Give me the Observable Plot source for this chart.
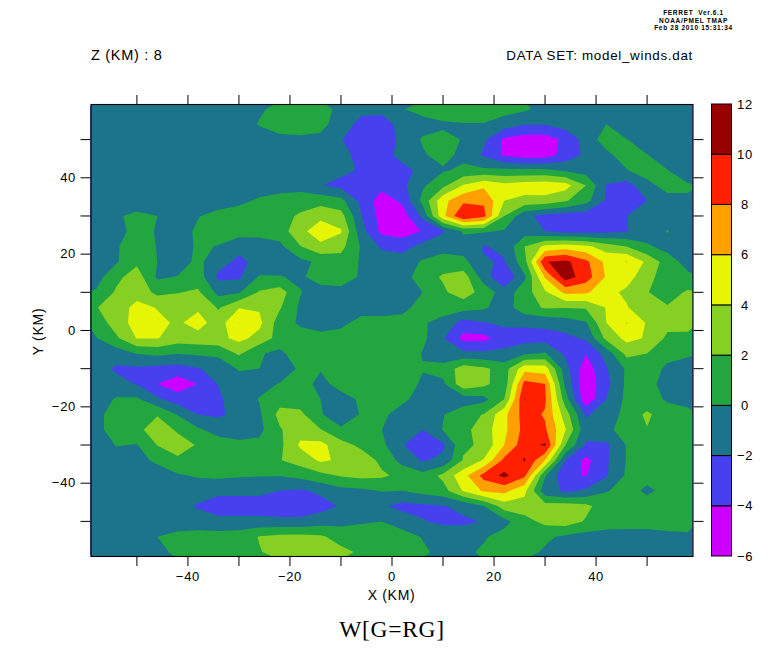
<!DOCTYPE html>
<html>
<head>
<meta charset="utf-8">
<script src="https://cdn.jsdelivr.net/npm/d3@7"></script>
<script src="https://cdn.jsdelivr.net/npm/@observablehq/plot@0.6"></script>
<style>
  html, body { margin: 0; background: #fff; }
  #chart { position: relative; width: 768px; height: 662px; overflow: hidden; }
  #chart svg { position: absolute; top: 0; }
</style>
</head>
<body>
<div id="chart"></div>
<script>
// W on a 30 x 30 grid. One row per Y (km), west to east.
const yp58 = [-1,-1,-1,-1,-1,-1,-0.6,-0.3,-0.2,0.4,0.8,0.7,-0.5,-1.5,-1.5,-0.1,0.6,1.2,1,1,0.8,0.3,-0.6,-1,-1,-1,-1,-1,-1,-1];
const yp54 = [-1,-1,-1,-1,-1,-1,-1,-0.8,0.1,1,1.2,0.6,-1,-2.6,-2.8,-1.4,-0.7,-0.3,-0.1,-0.1,-1,-1.9,-1.9,-1.2,-1,0,-1,-1,-1,-1];
const yp50 = [-1,-1,-1,-1,-1,-1,-1,-1,-0.8,-0.6,-0.5,-0.5,-1.9,-3,-3.2,-1.5,0.2,0.5,-0.1,-1.6,-4.4,-5,-5,-3.5,-1.2,1,0.05,-1,-1,-1];
const yp46 = [-1,-1,-1,-1,-1,-1,-1,-1,-1,-1,-1,-1,-1.2,-2.8,-2.9,-1.3,-0.2,0.6,-0.5,-2.3,-4.3,-5,-5,-3.2,-1.6,-0.5,1,0.05,-1,-1];
const yp42 = [-1,-1,-1,-1,-1,-1,-1,-1,-1,-1,-1,-1,-1.5,-2.2,-3.9,-2.6,-1.5,-0.2,0.4,0.4,0.4,0.4,0.4,-0.4,-0.9,-1,-0.1,1.2,0.05,-1.5];
const yp38 = [-1,-1,-1,-1,-1,-1,-1,-1,-1,-1,-1,-1.9,-2.6,-3,-3.4,-2.5,-0.3,1.5,4.2,5.6,4.6,5,5.3,4.8,2,-2.1,-2.8,-0.8,1,0.3];
const yp34 = [-1,-1,-1,-1,-1,-1,-1,-0.5,0.3,0.9,1.3,1.2,0.6,-2.6,-5,-3.6,0.6,5.4,7.6,7.7,4,3.4,3.3,2.2,0.7,-2.2,-2.6,-2,-1,-0.3];
const yp30 = [-1,-0.2,0.4,0,-1,-0.1,0.7,1,1.2,1.5,2.2,3.5,2.8,-1.9,-4.8,-5,-1.5,5.5,10.1,8.6,2,-1.5,-2.6,-3,-3,-2.7,-2,-1,-1,-1];
const yp26 = [-1,-0.5,0.5,-0.1,-1,0.4,0.9,1,1.2,1,3.4,5.2,4.2,-1.3,-4.5,-4.9,-3.9,-2.2,0.3,0.2,-0.2,-1,-2,-2.6,-2.7,-2.5,-2.1,-1,0.1,-1];
const yp22 = [-1,-0.2,1.2,-0.1,-1,0.3,-0.1,-1.5,-1.7,-0.5,1.9,3.5,2.6,-0.2,-2.3,-2.8,-1.3,-1,-1,-2.1,-1.7,2,4.5,5,4.5,3,2,0.3,-0.7,-1.6];
const yp18 = [-1,-0.2,1.6,0,-1,0.5,-1.3,-2.4,-1.5,-0.9,-0.5,0.4,1.2,-0.2,-1,-1,0.2,1.2,0.6,-1.9,-2.1,1.3,9.9,10.5,8.5,5.5,6.05,3.6,1,-0.8];
const yp14 = [-0.8,1.5,3,-0.3,0.1,1,-2.4,-2.3,0.2,0.1,-0.3,0.8,1.5,-0.4,-1.2,-1,1.2,2.2,3,-1,-3.9,-0.3,6.2,11,9,5.8,5,2.5,1.2,0.5];
const yp10 = [0.2,2.3,3.2,1.5,1.9,2.3,-0.6,-0.2,2.2,3,0.1,-0.8,-1,-1,-1,-1,0,1.7,3,1.2,-1,1,3.7,6.5,6.3,4.8,3.5,2.1,1,2.3];
const yp06 = [1.9,3,4.6,3.9,3.4,3.7,1.8,3.9,3.8,2.2,-0.3,-0.5,-0.5,-0.5,-0.4,-0.3,0.4,0.8,0.8,0.3,-1,1.2,2.2,2.1,2.2,4.1,4.2,2.1,2.2,2.6];
const yp02 = [0.8,3,4.8,4.5,3.7,4.8,3,6.05,4.5,1,-0.3,-0.7,-0.3,0.4,0.3,0.4,0.2,-0.6,-2.8,-2.1,-1.6,-1.6,-1.5,-1,-0.2,4,6.1,3.8,2.6,2.7];
const ym02 = [-0.1,1.7,4.1,4.1,3,3.2,3.4,4.6,3.3,1.2,0.8,0.5,0.5,0.8,1,0.9,0.5,-1.8,-4.6,-4.6,-3,-2.9,-2.8,-2.5,-1.7,2.5,4.6,3.8,1.6,1.5];
const ym06 = [-1,-1,0.1,0.5,0.1,0.3,0.5,2.3,0.2,-0.5,1.2,0.9,1.1,1.2,1.4,1,-0.1,-1.2,-1.5,-1.6,-1.5,-0.3,0.2,-2.4,-3.9,-1.2,2.6,2,0.5,0.3];
const ym10 = [-1.2,-2.3,-2.3,-2.6,-2.8,-2.1,-1.4,0.2,0,-1.1,0.3,0.2,1,1.3,1.5,1,0.1,0.7,3,2.4,1.1,5.3,5,-1.2,-5.2,-2.2,0.3,0.8,-0.3,-0.8];
const ym14 = [-1,-1.3,-2.1,-4,-5.2,-3.95,-1.9,-1,-0.6,0.1,1.2,-0.8,1,1.2,1.5,1,-0.3,-0.4,3.4,2.5,0.8,8.7,8,-0.5,-5.5,-2.6,0.4,0.6,-0.7,-1];
const ym18 = [-1,0.2,0.3,-1.6,-3,-3.6,-2.3,-1,0.1,1.3,1,0,-1,0.4,0.8,0.3,-0.6,-1,-1,-0.6,2,10.05,8.3,0.9,-5.5,-2,0.5,0.7,-0.2,-0.7];
const ym22 = [-0.5,0.8,0.8,1.85,-0.1,-2,-2.3,-1.4,-0.3,2.6,2.5,0.2,-1.5,0.2,0.3,-0.6,-0.8,-0.1,1.2,2.1,5.5,8.9,7.8,3,-2.2,-1.2,0.7,2.4,0.7,0.6];
const ym26 = [-0.5,0.8,1.4,3.2,1.7,0.3,-0.8,-1.2,-0.5,1.8,3.3,2.1,0.4,0.4,0,-1.7,-2,0.1,1.4,3,5.5,8.7,8.3,4.1,-1.4,-0.4,0.7,1.9,0.8,0.7];
const ym30 = [-1.2,0.1,-0.1,2.05,3,1.8,1,0.6,0.5,1.5,4.3,4.6,2.8,1.5,0.5,-1.9,-3,-2.3,1.6,2.4,6,9.2,10.3,2,-2.2,-2.4,0.1,0.5,0.5,0.5];
const ym34 = [-1.2,-0.9,-0.5,0.3,1.6,1.5,1.2,1.3,1.6,1.9,2.9,4.3,3.7,3.2,1.5,-0.7,-2.2,-1.6,2.2,4.2,8.5,10.2,6,-2,-4.6,-2.3,0.1,0.4,0.5,0.5];
const ym38 = [-1.2,-1.2,-1,-0.8,-0.2,0.2,0.4,0.2,0.1,0.1,0.6,1.4,2.2,2.6,2.3,1.5,0.7,2.5,5.3,8.7,10.5,8.4,0.2,-3.6,-4.1,-2.2,0.3,0.4,0.5,0.5];
const ym42 = [-1.2,-1.2,-1.2,-1.2,-1,-1,-1.5,-1.5,-1.5,-2,-2.3,-1.6,-0.7,-0.4,0.1,0,0.7,1.2,4.2,6.3,6.6,4.5,-1.2,-2.3,-1.7,-0.1,0.5,-0.25,0.4,0.5];
const ym46 = [-1.3,-1.3,-1.3,-1.3,-1.4,-2.2,-3,-3,-3,-3.2,-3.2,-2.8,-1.8,-1.2,-1.7,-2.6,-2.4,-2.1,-1.5,0,3,3.2,2.8,3,2.5,0.9,0.6,0.6,0.6,0.6];
const ym50 = [-1.3,-1.3,-1.3,-1.2,-1,-1,-1.4,-1.4,-1.4,-1.5,-1.5,-0.9,-0.6,-0.2,0,-0.8,-1.9,-2.3,-2.3,-1.9,-0.6,1.2,2.6,3,1.8,1,0.8,0.7,0.7,0.7];
const ym54 = [-1.4,-1.4,-1.2,0,0.5,0.7,0.8,1,2.1,2.5,2.6,2.3,1.2,1,1,0.7,-0.1,-1,-1.1,-0.2,0.7,0.8,0.3,-0.3,-0.8,-0.9,-0.8,-0.7,-0.4,-0.3];
const ym58 = [-1.4,-1.4,-1.3,-0.5,0.4,0.8,1,1.2,1.9,2.6,3,3,2.5,1.7,1.3,1,0.3,-0.5,-0.4,0.3,0.8,0.5,-0.2,-1,-1.2,-1.2,-1.2,-1,-1,-1];

const levels = [-6,-4,-2,0,2,4,6,8,10,12];
const bandColors = ["#cc00ff","#4640ee","#1b748c","#23a640","#86cf23","#e5f505","#ff9f00","#ff2000","#990000"];
const xyTicks = [-50,-40,-30,-20,-10,0,10,20,30,40,50];
const xyLabels = [-40,-20,0,20,40];
const xLabel = "X (KM)";
const yLabel = "Y (KM)";
const headLeft = "Z (KM) : 8";
const headRight = "DATA SET: model_winds.dat";
const stamp = ["FERRET  Ver.6.1","NOAA/PMEL TMAP","Feb 28 2010 15:31:34"];
const bigTitle = "W[G=RG]";

const grid = [yp58,yp54,yp50,yp46,yp42,yp38,yp34,yp30,yp26,yp22,yp18,yp14,yp10,yp06,yp02,
              ym02,ym06,ym10,ym14,ym18,ym22,ym26,ym30,ym34,ym38,ym42,ym46,ym50,ym54,ym58].flat();

const face = "Liberation Sans";
const tickFmt = d => xyLabels.includes(d) ? d3.format("d")(d) : "";
const note = (t, o) => Plot.text([t], {text: d => d, frameAnchor: "top-left", lineAnchor: "middle", ...o});

const main = Plot.plot({
  width: 768, height: 662,
  marginLeft: 90.5, marginRight: 75.5, marginTop: 104, marginBottom: 106,
  style: {background: "#fff", fontFamily: face, letterSpacing: "0.7px", color: "#000"},
  x: {domain: [-59, 59]},
  y: {domain: [-59.2, 59.2]},
  color: {type: "threshold", domain: levels.slice(1, -1), range: bandColors, legend: false},
  marks: [
    Plot.contour(grid, {
      x1: -60, x2: 60, y1: 60, y2: -60, width: 30, height: 30,
      fill: Plot.identity, thresholds: levels.slice(0, -1), stroke: "none", clip: true
    }),
    Plot.frame({stroke: "#000", strokeWidth: 1.1}),
    Plot.axisX({anchor: "bottom", ticks: xyTicks, tickSize: 10, tickPadding: 5, tickFormat: tickFmt, label: null, fontSize: 13, stroke: "#000"}),
    Plot.axisX({anchor: "top", ticks: xyTicks, tickSize: 10, tickFormat: () => "", label: null, stroke: "#000"}),
    Plot.axisY({anchor: "left", ticks: xyTicks, tickSize: 10, tickPadding: 5, tickFormat: tickFmt, label: null, fontSize: 13, stroke: "#000"}),
    Plot.axisY({anchor: "right", ticks: xyTicks, tickSize: 10, tickFormat: () => "", label: null, stroke: "#000"}),
    note(xLabel, {textAnchor: "middle", dx: 300.5, dy: 491, fontSize: 14}),
    note(yLabel, {textAnchor: "middle", dx: -52, dy: 227, rotate: -90, fontSize: 14}),
    note(headLeft, {textAnchor: "start", dx: 0, dy: -49, fontSize: 14.5}),
    note(headRight, {textAnchor: "end", dx: 602, dy: -49, fontSize: 13.4}),
    note(stamp[0], {textAnchor: "middle", dx: 602.5, dy: -92, fontSize: 6.5, fontWeight: 700}),
    note(stamp[1], {textAnchor: "middle", dx: 602.5, dy: -84, fontSize: 6.5, fontWeight: 700}),
    note(stamp[2], {textAnchor: "middle", dx: 602.5, dy: -76.5, fontSize: 6.5, fontWeight: 700}),
    note(bigTitle, {textAnchor: "middle", dx: 301, dy: 525, fontSize: 23.5, fontFamily: "Liberation Serif"})
  ]
});

const bands = levels.slice(0, -1).map((lo, i) => ({lo, hi: levels[i + 1], color: bandColors[i]}));
const key = Plot.plot({
  width: 57, height: 662,
  marginLeft: 0.5, marginRight: 36.5, marginTop: 104, marginBottom: 106,
  style: {background: "transparent", fontFamily: face, letterSpacing: "0.7px", color: "#000"},
  x: {domain: [0, 1], axis: null},
  y: {domain: [-6, 12], axis: null},
  marks: [
    Plot.rectY(bands, {x1: 0, x2: 1, y1: "lo", y2: "hi", fill: "color", stroke: "#000", strokeWidth: 1, inset: 0}),
    Plot.text(levels, {x: 1, y: d => d, dx: 13, text: d => d3.format("d")(d), textAnchor: "middle", fontSize: 13})
  ]
});
key.style.left = "711px";

const root = document.getElementById("chart");
root.append(main, key);
</script>
</body>
</html>
